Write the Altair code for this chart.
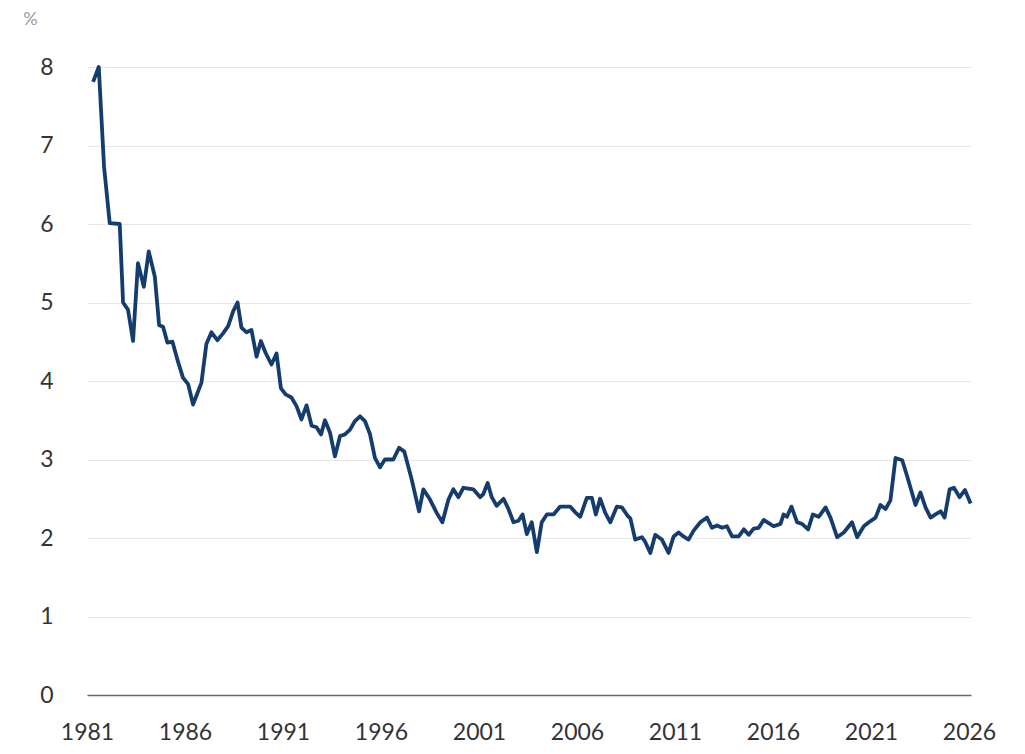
import altair as alt
import pandas as pd

years = [1981.31, 1981.60, 1981.87, 1982.16, 1982.67, 1982.84, 1983.09, 1983.35, 1983.60, 1983.90,
         1984.15, 1984.46, 1984.68, 1984.88, 1985.10, 1985.36, 1985.65, 1985.90, 1986.16, 1986.41,
         1986.84, 1987.09, 1987.35, 1987.65, 1987.95, 1988.20, 1988.46, 1988.68, 1988.88, 1989.14,
         1989.39, 1989.65, 1989.87, 1990.11, 1990.41, 1990.67, 1990.89, 1991.13, 1991.43, 1991.69,
         1991.94, 1992.20, 1992.46, 1992.71, 1992.94, 1993.14, 1993.40, 1993.65, 1993.91, 1994.16,
         1994.42, 1994.67, 1994.93, 1995.18, 1995.44, 1995.69, 1995.95, 1996.20, 1996.63, 1996.92,
         1997.19, 1997.56, 1997.94, 1998.16, 1998.50, 1998.84, 1999.13, 1999.44, 1999.69, 1999.95,
         2000.20, 2000.71, 2001.06, 2001.22, 2001.44, 2001.65, 2001.90, 2002.25, 2002.50, 2002.76,
         2003.01, 2003.22, 2003.44, 2003.69, 2003.95, 2004.20, 2004.46, 2004.80, 2005.14, 2005.65,
         2005.90, 2006.16, 2006.50, 2006.76, 2006.96, 2007.18, 2007.44, 2007.70, 2008.03, 2008.29,
         2008.59, 2008.72, 2008.97, 2009.31, 2009.48, 2009.74, 2009.99, 2010.33, 2010.67, 2010.93,
         2011.18, 2011.43, 2011.69, 2011.94, 2012.29, 2012.63, 2012.88, 2013.14, 2013.40, 2013.65,
         2013.91, 2014.25, 2014.51, 2014.76, 2015.01, 2015.27, 2015.52, 2015.78, 2016.03, 2016.38,
         2016.54, 2016.71, 2016.94, 2017.23, 2017.48, 2017.79, 2018.03, 2018.33, 2018.68, 2018.93,
         2019.27, 2019.61, 2020.03, 2020.29, 2020.63, 2020.89, 2021.23, 2021.48, 2021.74, 2021.99,
         2022.25, 2022.59, 2022.84, 2023.27, 2023.52, 2023.78, 2024.04, 2024.29, 2024.55, 2024.75,
         2025.01, 2025.23, 2025.52, 2025.79, 2026.08]

values = [7.81, 8.00, 6.73, 6.01, 6.00, 5.00, 4.91, 4.51, 5.50, 5.20,
          5.65, 5.33, 4.71, 4.69, 4.49, 4.50, 4.24, 4.04, 3.96, 3.70,
          3.98, 4.47, 4.62, 4.52, 4.61, 4.70, 4.89, 5.00, 4.68, 4.62,
          4.65, 4.31, 4.51, 4.36, 4.21, 4.35, 3.91, 3.83, 3.79, 3.68,
          3.51, 3.69, 3.43, 3.41, 3.32, 3.50, 3.34, 3.04, 3.30, 3.32,
          3.38, 3.49, 3.55, 3.49, 3.32, 3.02, 2.90, 3.00, 3.00, 3.15,
          3.10, 2.75, 2.34, 2.62, 2.49, 2.32, 2.20, 2.49, 2.62, 2.52,
          2.64, 2.62, 2.52, 2.56, 2.70, 2.52, 2.41, 2.50, 2.37, 2.20,
          2.22, 2.30, 2.05, 2.20, 1.82, 2.20, 2.30, 2.30, 2.40, 2.40,
          2.33, 2.27, 2.51, 2.51, 2.30, 2.50, 2.32, 2.20, 2.40, 2.39,
          2.28, 2.25, 1.98, 2.01, 1.95, 1.81, 2.04, 1.98, 1.81, 2.02,
          2.07, 2.02, 1.98, 2.09, 2.20, 2.26, 2.13, 2.16, 2.13, 2.15,
          2.02, 2.02, 2.11, 2.04, 2.12, 2.13, 2.23, 2.19, 2.15, 2.18,
          2.30, 2.27, 2.40, 2.20, 2.18, 2.11, 2.30, 2.27, 2.39, 2.26,
          2.01, 2.07, 2.20, 2.01, 2.15, 2.20, 2.26, 2.42, 2.37, 2.48,
          3.02, 2.99, 2.79, 2.42, 2.58, 2.39, 2.26, 2.30, 2.34, 2.26,
          2.62, 2.64, 2.52, 2.61, 2.44]

x_ticks = [1981, 1986, 1991, 1996, 2001, 2006, 2011, 2016, 2021, 2026]
y_ticks = [0, 1, 2, 3, 4, 5, 6, 7, 8]

df = pd.DataFrame({"year": years, "value": values})

FONT = "Lato"

chart = alt.Chart(df).mark_line(color="#143d6e", strokeWidth=3.8, strokeJoin="round").encode(
    x=alt.X("year:Q",
            scale=alt.Scale(domain=[1981, 2026.1], nice=False, zero=False),
            axis=alt.Axis(values=x_ticks, format="d", title=None, grid=False,
                          ticks=False, domain=True, domainColor="#6b6b6b", domainWidth=1.5,
                          labelFontSize=23, labelColor="#333333", labelFont=FONT,
                          labelPadding=26, labelFlush=False, labelOverlap=False)),
    y=alt.Y("value:Q",
            scale=alt.Scale(domain=[0, 8], nice=False),
            axis=alt.Axis(values=y_ticks, format="d", title="%", titleAngle=0,
                          titleX=-57, titleY=-48, titleAlign="center", titleBaseline="middle",
                          titleFontSize=18, titleFontWeight="normal", titleColor="#9a9a9a",
                          titleFont=FONT,
                          grid=True, gridColor="#e6e6e6", gridWidth=1,
                          ticks=False, domain=False,
                          labelFontSize=23, labelColor="#333333", labelFont=FONT,
                          labelPadding=34, labelAlign="right", labelBaseline="middle")),
).properties(
    width=884,
    height=628,
    padding={"left": 79, "top": 59, "right": 30, "bottom": 51},
    autosize=alt.AutoSizeParams(type="none"),
).configure(background="#ffffff").configure_view(stroke=None, strokeWidth=0)

chart.save("out.html", embed_options={"renderer": "svg", "actions": False})
